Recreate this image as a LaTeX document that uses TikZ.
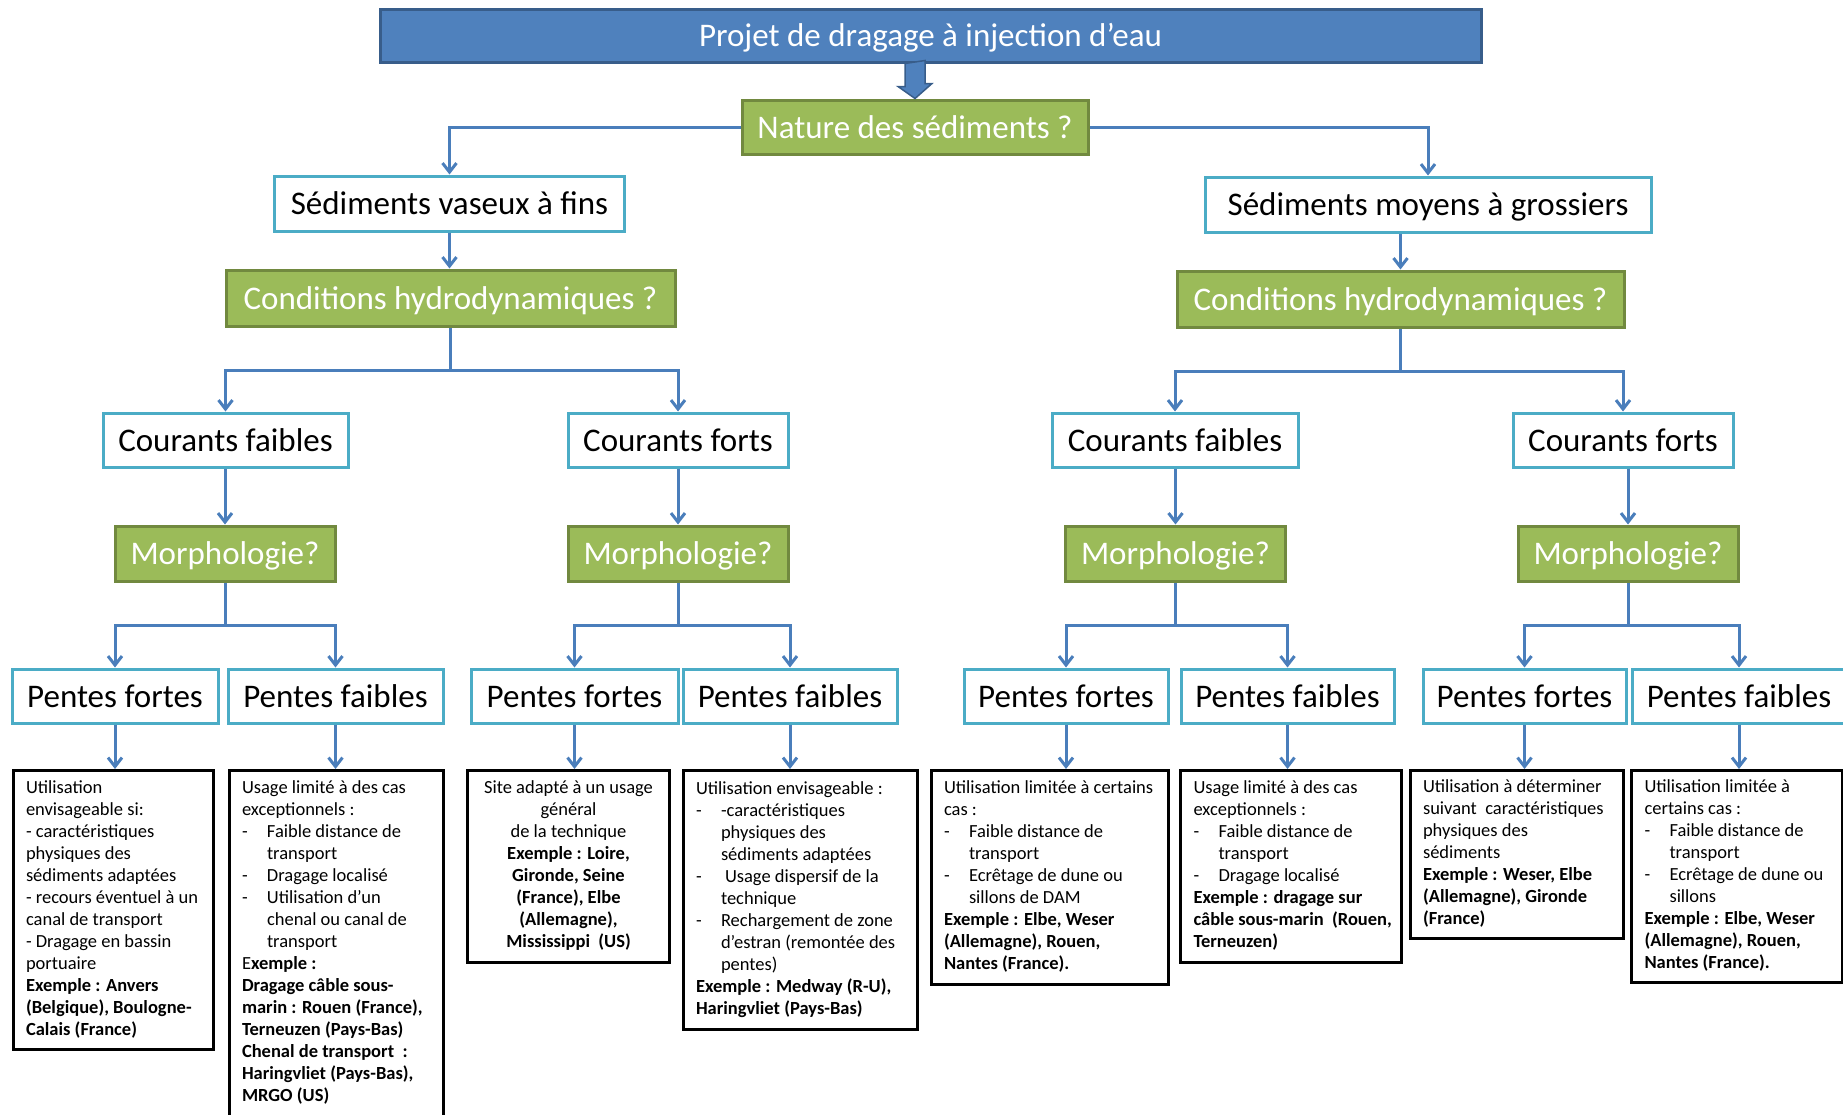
\documentclass[tikz,border=0pt]{standalone}
\usepackage{fontspec}
\setmainfont{Carlito}
\usetikzlibrary{arrows.meta}
\definecolor{bfill}{HTML}{4F81BD}
\definecolor{bbord}{HTML}{385D8A}
\definecolor{gfill}{HTML}{9BBB59}
\definecolor{gbord}{HTML}{71893F}
\definecolor{cbord}{HTML}{4BACC6}
\definecolor{connc}{HTML}{4A7EBB}
\newcommand\bx[2]{\makebox[#1][l]{\begin{tabular}{@{}l@{}}#2\end{tabular}}}
\newcommand\bxc[2]{\makebox[#1][c]{\begin{tabular}{@{}c@{}}#2\end{tabular}}}
\newcommand\dsh{\makebox[25pt][l]{-}}
\newcommand\hind{\hspace*{25pt}}
\begin{document}
\begin{tikzpicture}[x=1pt,y=-1pt,
 hd/.style={font=\fontsize{33}{39}\selectfont, inner sep=0pt, line width=3pt, text height=22pt, text depth=0pt},
 topbox/.style={hd, draw=bbord, fill=bfill, text=white, minimum width=1101pt, minimum height=53pt},
 qbox/.style={hd, draw=gbord, fill=gfill, text=white},
 abox/.style={hd, draw=cbord, fill=white, text=black},
 tbox/.style={draw=black, fill=white, line width=3pt, inner sep=0pt, anchor=north, font=\fontsize{18.5}{22}\selectfont},
 arr/.style={draw=connc, line width=3pt, -{Straight Barb[length=9pt,width=14pt]}},
 bigarr/.style={draw=bbord, fill=bfill, line width=1.5pt, line join=miter},
]
\path[use as bounding box] (0,0) rectangle (1843,1114);
\clip (0,0) rectangle (1843,1114);

% header nodes
\node[topbox] (top) at (930.5,35.5) {Projet de dragage à injection d’eau};
\node[qbox, minimum width=346pt, minimum height=54pt] (nat) at (915,127) {Nature des sédiments ?};
\node[abox, minimum width=350pt, minimum height=55pt] (sv) at (449.5,203.5) {Sédiments vaseux à fins};
\node[abox, minimum width=446pt, minimum height=55pt] (sm) at (1428,204.5) {Sédiments moyens à grossiers};
\node[qbox, minimum width=449pt, minimum height=56pt] (cl) at (450.5,298) {Conditions hydrodynamiques ?};
\node[qbox, minimum width=447pt, minimum height=56pt] (cr) at (1400.5,299) {Conditions hydrodynamiques ?};

\node[abox, minimum width=245pt, minimum height=54pt] (c1) at (225.5,440) {Courants faibles};
\node[abox, minimum width=220pt, minimum height=54pt] (c2) at (678,440) {Courants forts};
\node[abox, minimum width=246pt, minimum height=54pt] (c3) at (1175,440) {Courants faibles};
\node[abox, minimum width=220pt, minimum height=54pt] (c4) at (1623,440) {Courants forts};

\node[qbox, minimum width=220pt, minimum height=55pt] (m1) at (225,553.5) {Morphologie?};
\node[qbox, minimum width=220pt, minimum height=55pt] (m2) at (678,553.5) {Morphologie?};
\node[qbox, minimum width=220pt, minimum height=55pt] (m3) at (1175.5,553.5) {Morphologie?};
\node[qbox, minimum width=220pt, minimum height=55pt] (m4) at (1628,553.5) {Morphologie?};

\node[abox, minimum width=206pt, minimum height=54pt] (p1) at (115,696) {Pentes fortes};
\node[abox, minimum width=215pt, minimum height=54pt] (p2) at (335.5,696) {Pentes faibles};
\node[abox, minimum width=207pt, minimum height=54pt] (p3) at (574.5,696) {Pentes fortes};
\node[abox, minimum width=214pt, minimum height=54pt] (p4) at (790,696) {Pentes faibles};
\node[abox, minimum width=204pt, minimum height=54pt] (p5) at (1066,696) {Pentes fortes};
\node[abox, minimum width=213pt, minimum height=54pt] (p6) at (1287.5,696) {Pentes faibles};
\node[abox, minimum width=203pt, minimum height=54pt] (p7) at (1524.5,696) {Pentes fortes};
\node[abox, minimum width=214pt, minimum height=54pt] (p8) at (1739,696) {Pentes faibles};

% text boxes
\node[tbox, minimum width=200pt, minimum height=279pt] (t1) at (113,769) {\bx{174pt}{%
Utilisation\\
envisageable si:\\
- caractéristiques\\
physiques des\\
sédiments adaptées\\
- recours éventuel à un\\
canal de transport\\
- Dragage en bassin\\
portuaire\\
\textbf{Exemple : Anvers}\\
\textbf{(Belgique), Boulogne-}\\
\textbf{Calais (France)}}};

\node[tbox, minimum width=214pt, minimum height=346pt] (t2) at (336,769) {\bx{188pt}{%
Usage limité à des cas\\
exceptionnels :\\
\dsh Faible distance de\\
\hind transport\\
\dsh Dragage localisé\\
\dsh Utilisation d’un\\
\hind chenal ou canal de\\
\hind transport\\
E\textbf{xemple :}\\
\textbf{Dragage câble sous-}\\
\textbf{marin : Rouen (France),}\\
\textbf{Terneuzen (Pays-Bas)}\\
\textbf{Chenal de transport~ :}\\
\textbf{Haringvliet (Pays-Bas),}\\
\textbf{MRGO (US)}}};

\node[tbox, minimum width=202pt, minimum height=192pt] (t3) at (568.5,769) {\bxc{176pt}{%
Site adapté à un usage\\
général\\
de la technique\\
\textbf{Exemple : Loire,}\\
\textbf{Gironde, Seine}\\
\textbf{(France), Elbe}\\
\textbf{(Allemagne),}\\
\textbf{Mississippi~ (US)}}};

\node[tbox, minimum width=234pt, minimum height=259pt] (t4) at (800,769) {\bx{208pt}{%
Utilisation envisageable :\\
\dsh -caractéristiques\\
\hind physiques des\\
\hind sédiments adaptées\\
\dsh\hspace*{4pt}Usage dispersif de la\\
\hind technique\\
\dsh Rechargement de zone\\
\hind d’estran (remontée des\\
\hind pentes)\\
\textbf{Exemple : Medway (R-U),}\\
\textbf{Haringvliet (Pays-Bas)}}};

\node[tbox, minimum width=237pt, minimum height=214pt] (t5) at (1049.5,769) {\bx{211pt}{%
Utilisation limitée à certains\\
cas :\\
\dsh Faible distance de\\
\hind transport\\
\dsh Ecrêtage de dune ou\\
\hind sillons de DAM\\
\textbf{Exemple : Elbe, Weser}\\
\textbf{(Allemagne), Rouen,}\\
\textbf{Nantes (France).}}};

\node[tbox, minimum width=221pt, minimum height=192pt] (t6) at (1291,769) {\bx{195pt}{%
Usage limité à des cas\\
exceptionnels :\\
\dsh Faible distance de\\
\hind transport\\
\dsh Dragage localisé\\
\textbf{Exemple : dragage sur}\\
\textbf{câble sous-marin~ (Rouen,}\\
\textbf{Terneuzen)}}};

\node[tbox, minimum width=213pt, minimum height=168pt] (t7) at (1516.5,769) {\bx{187pt}{%
Utilisation à déterminer\\
suivant~ caractéristiques\\
physiques des\\
sédiments\\
\textbf{Exemple : Weser, Elbe}\\
\textbf{(Allemagne), Gironde}\\
\textbf{(France)}}};

\node[tbox, minimum width=211pt, minimum height=212pt] (t8) at (1737,769) {\bx{185pt}{%
Utilisation limitée à\\
certains cas :\\
\dsh Faible distance de\\
\hind transport\\
\dsh Ecrêtage de dune ou\\
\hind sillons\\
\textbf{Exemple : Elbe, Weser}\\
\textbf{(Allemagne), Rouen,}\\
\textbf{Nantes (France).}}};

% big arrow
\coordinate (ab) at (nat.north |- top.south);
\draw[bigarr] (ab) ++(-10,0) -- ++(0,23) -- ++(-7,0) -- (nat.north) -- ++(17,-15) -- ++(-7,0) -- ++(0,-23) -- cycle;

% connectors
\draw[arr] (nat.west) -| (sv.north);
\draw[arr] (nat.east) -| (sm.north);
\draw[arr] (sv.south) -- (sv.south |- cl.north);
\draw[arr] (sm.south -| cr.north) -- (cr.north);

\draw[arr] (cl.south) -- ++(0,43) -| (c1.north);
\draw[arr] (cl.south) -- ++(0,43) -| (c2.north);
\draw[arr] (cr.south) -- ++(0,43) -| (c3.north);
\draw[arr] (cr.south) -- ++(0,43) -| (c4.north);

\draw[arr] (c1.south -| m1.north) -- (m1.north);
\draw[arr] (c2.south -| m2.north) -- (m2.north);
\draw[arr] (c3.south -| m3.north) -- (m3.north);
\draw[arr] (c4.south -| m4.north) -- (m4.north);

\draw[arr] (m1.south) -- ++(0,43) -| (p1.north);
\draw[arr] (m1.south) -- ++(0,43) -| (p2.north);
\draw[arr] (m2.south) -- ++(0,43) -| (p3.north);
\draw[arr] (m2.south) -- ++(0,43) -| (p4.north);
\draw[arr] (m3.south) -- ++(0,43) -| (p5.north);
\draw[arr] (m3.south) -- ++(0,43) -| (p6.north);
\draw[arr] (m4.south) -- ++(0,43) -| (p7.north);
\draw[arr] (m4.south) -- ++(0,43) -| (p8.north);

\draw[arr] (p1.south) -- (p1.south |- t1.north);
\draw[arr] (p2.south) -- (p2.south |- t2.north);
\draw[arr] (p3.south) -- (p3.south |- t3.north);
\draw[arr] (p4.south) -- (p4.south |- t4.north);
\draw[arr] (p5.south) -- (p5.south |- t5.north);
\draw[arr] (p6.south) -- (p6.south |- t6.north);
\draw[arr] (p7.south) -- (p7.south |- t7.north);
\draw[arr] (p8.south) -- (p8.south |- t8.north);
\end{tikzpicture}
\end{document}
